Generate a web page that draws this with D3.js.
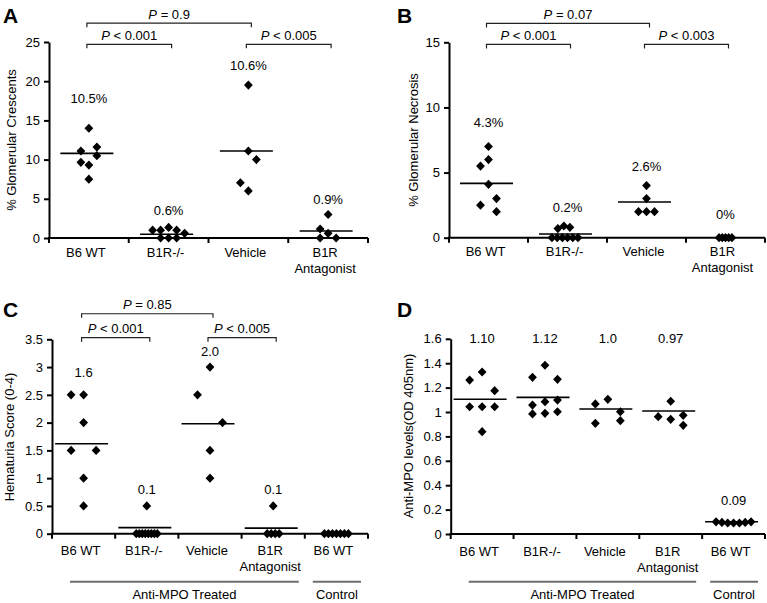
<!DOCTYPE html>
<html><head><meta charset="utf-8">
<script src="https://cdn.jsdelivr.net/npm/d3@7"></script>
<style>
body{margin:0;background:#fff}
svg{display:block;font-family:Arial,"Liberation Sans",Helvetica,sans-serif}
</style>
</head><body>
<svg id="chart" width="767" height="603"></svg>
<script>
// ---------------- DATA ----------------
const catsAB = ["B6 WT", "B1R-/-", "Vehicle", "B1R\nAntagonist"];
const catsCD = ["B6 WT", "B1R-/-", "Vehicle", "B1R\nAntagonist", "B6 WT"];

// Panel A: % glomerular crescents
const crescentB6WT = [14, 11.1, 11.6, 10.5, 9.65, 9.3, 7.5];
const crescentB1RKO = [1.0, 1.0, 1.35, 1.0, 0.6, 0, 0, 0];
const crescentVehicle = [19.5, 11.1, 10.0, 7.05, 6.0];
const crescentAntag = [3.0, 1.15, 0.6, 0, 0];
const crescentMean = [10.8, 0.47, 11.1, 0.9];
const crescentLabels = ["10.5%", "0.6%", "10.6%", "0.9%"];
const crescentLabelAt = [17.2, 2.93, 21.4, 4.34];
const crescentTicks = [0, 5, 10, 15, 20, 25];

// Panel B: % glomerular necrosis
const necrosisB6WT = [7, 6, 5.5, 4.1, 3, 2.5, 2];
const necrosisB1RKO = [0, 0, 0, 0, 0, 0, 0.7, 0.9, 0.8];
const necrosisVehicle = [4, 3, 2, 2, 2];
const necrosisAntag = [0, 0, 0, 0, 0];
const necrosisMean = [4.17, 0.28, 2.74, null];
const necrosisLabels = ["4.3%", "0.2%", "2.6%", "0%"];
const necrosisLabelAt = [8.52, 2.0, 5.14, 1.44];
const necrosisTicks = [0, 5, 10, 15];

// Panel C: hematuria score
const hematuriaB6WT = [2.5, 2.5, 2, 1.5, 1.5, 1, 0.5];
const hematuriaB1RKO = [0.5, 0, 0, 0, 0, 0, 0, 0, 0];
const hematuriaVehicle = [3, 2.5, 2, 1.5, 1];
const hematuriaAntag = [0.5, 0, 0, 0, 0];
const hematuriaControl = [0, 0, 0, 0, 0, 0, 0];
const hematuriaMean = [1.62, 0.11, 1.98, 0.1, null];
const hematuriaLabels = ["1.6", "0.1", "2.0", "0.1", ""];
const hematuriaLabelAt = [2.82, 0.71, 3.20, 0.71, null];
const hematuriaTicks = [0, 0.5, 1, 1.5, 2, 2.5, 3, 3.5];

// Panel D: anti-MPO levels
const mpoB6WT = [1.262, 1.328, 1.175, 1.043, 1.043, 1.043, 0.839];
const mpoB1RKO = [1.383, 1.284, 1.268, 1.084, 1.098, 1.057, 0.984, 0.989, 1.002];
const mpoVehicle = [1.066, 1.104, 1.002, 0.907, 0.929];
const mpoAntag = [1.088, 0.962, 0.940, 0.973, 0.891];
const mpoControl = [0.10, 0.095, 0.09, 0.09, 0.09, 0.095, 0.10];
const mpoMean = [1.104, 1.12, 1.025, 1.008, 0.1];
const mpoLabels = ["1.10", "1.12", "1.0", "0.97", "0.09"];
const mpoLabelAt = [1.565, 1.565, 1.565, 1.565, 0.238];
const mpoTicks = [0, 0.2, 0.4, 0.6, 0.8, 1, 1.2, 1.4, 1.6];

// horizontal dodge slots of each point (column index within its group)
const slotsA = [[0, -1, 1, 1, -1, 0, 0], [-2, -1, 0, 1, 2, -1, 0, 1], [0, 0, 1, -1, 0], [0, -1, 0, -1, 1]];
const slotsB = [[0, 0, -1, 0, 1, -1, 1], [-1.94, -1.29, -0.64, 0, 0.66, 1.31, -1.2, -0.45, 0.3], [0, 0, -1, 0, 1], [-0.8, -0.4, 0, 0.4, 0.8]];
const slotsC = [[-1, 0, 0, -1, 1, 0, 0], [0, -0.84, -0.6, -0.36, -0.12, 0.12, 0.36, 0.6, 0.84], [0, -1, 1, 0, 0], [0, -0.48, -0.16, 0.16, 0.48], [-0.96, -0.64, -0.32, 0, 0.32, 0.64, 0.96]];
const slotsD = [[-1, 0, 1, -1, 0, 1, 0], [0, -1, 1, 0, 1, -1, -1, 0, 1], [-1, 0, 1, -1, 1], [0, -1, 0, 1, 1], [-1.4, -0.93, -0.47, 0, 0.47, 0.93, 1.4]];

// significance brackets
const bracketsA = [{from: 0, to: 1, at: 24.7, op: " < 0.001"}, {from: 2, to: 3, at: 24.7, op: " < 0.005"}, {from: 0, to: 2, at: 27.4, op: " = 0.9"}];
const bracketsB = [{from: 0, to: 1, at: 14.84, op: " < 0.001"}, {from: 2, to: 3, at: 14.84, op: " < 0.003"}, {from: 0, to: 2, at: 16.45, op: " = 0.07"}];
const bracketsC = [{from: 0, to: 1, at: 3.53, op: " < 0.001"}, {from: 2, to: 3, at: 3.53, op: " < 0.005"}, {from: 0, to: 2, at: 3.96, op: " = 0.85"}];

const groupLabels = [{label: "Anti-MPO Treated", from: 0, to: 3}, {label: "Control", from: 4, to: 4}];

// ---------------- DRAWING ----------------
const svg = d3.select("#chart");
const diamond = "M0,-4.6L4.4,0L0,4.6L-4.4,0Z";

function panel(c) {
  const x = d3.scaleBand().domain(d3.range(c.cats.length)).range([c.x0, c.x1]);
  const y = d3.scaleLinear().domain([0, c.max]).range([c.y0, c.y1]);
  const bw = x.bandwidth();
  const cx = i => x(i) + bw / 2;
  const g = svg.append("g");

  // panel letter
  g.append("text").attr("x", c.lx).attr("y", c.ly).attr("font-size", 21).attr("font-weight", "bold").text(c.letter);

  // y axis
  const ya = g.append("g").attr("transform", `translate(${c.x0},0)`)
    .call(d3.axisLeft(y).tickValues(c.ticks).tickFormat(d3.format("~g")).tickSize(5).tickSizeOuter(0).tickPadding(4));
  ya.attr("font-size", 13).attr("font-family", null);
  ya.select(".domain").attr("stroke-width", 2).attr("stroke", "#000");
  ya.selectAll(".tick line").attr("stroke-width", 2).attr("stroke", "#000");
  ya.selectAll(".tick text").attr("fill", "#000");

  // x axis line and boundary ticks
  g.append("line").attr("x1", c.x0 - 1).attr("x2", c.x1).attr("y1", c.y0).attr("y2", c.y0)
    .attr("stroke", "#000").attr("stroke-width", 2);
  const bounds = d3.range(c.cats.length).map(i => x(i)).concat([c.x1]);
  g.selectAll(".xt").data(bounds).join("line")
    .attr("x1", d => d).attr("x2", d => d).attr("y1", c.y0).attr("y2", c.y0 + 5)
    .attr("stroke", "#000").attr("stroke-width", 2);

  // category labels
  c.cats.forEach((name, i) => {
    const t = g.append("text").attr("text-anchor", "middle").attr("font-size", 13);
    name.split("\n").forEach((part, k) => {
      t.append("tspan").attr("x", cx(i) - 3).attr("y", c.y0 + c.catBase + k * 16).text(part);
    });
  });

  // y title
  g.append("text").attr("transform", `translate(${c.tx},${c.ty}) rotate(-90)`)
    .attr("text-anchor", "middle").attr("font-size", 13).text(c.title);

  // mean lines
  c.means.forEach((m, i) => {
    if (m == null) return;
    g.append("line").attr("x1", cx(i) - 2 - 26.5).attr("x2", cx(i) - 2 + 26.5)
      .attr("y1", y(m)).attr("y2", y(m)).attr("stroke", "#000").attr("stroke-width", 1.6);
  });

  // points
  c.groups.forEach((vals, i) => {
    g.selectAll(null).data(vals.map((v, k) => ({v, s: c.slots[i][k]}))).join("path")
      .attr("d", diamond)
      .attr("transform", d => `translate(${cx(i) + d.s * c.step},${y(d.v)})`)
      .attr("fill", "#000");
  });

  // mean labels
  c.labels.forEach((lab, i) => {
    if (!lab) return;
    g.append("text").attr("x", cx(i)).attr("y", y(c.labelAt[i])).attr("text-anchor", "middle")
      .attr("font-size", 13).text(lab);
  });

  // brackets
  (c.brackets || []).forEach(b => {
    const yy = y(b.at), xs = cx(b.from) - 2, xe = cx(b.to) + 3;
    g.append("path").attr("d", `M${xs},${yy + 4}V${yy}H${xe}V${yy + 4}`)
      .attr("fill", "none").attr("stroke", "#222").attr("stroke-width", 1.2);
    const t = g.append("text").attr("x", (xs + xe) / 2).attr("y", yy - 4.5)
      .attr("text-anchor", "middle").attr("font-size", 13);
    t.append("tspan").attr("font-style", "italic").text("P");
    t.append("tspan").text(b.op);
  });

  // group labels under axis
  if (c.groupLabels) {
    const insetL = [18, 8], insetR = [6, 7];
    c.groupLabels.forEach((gr, k) => {
      const xs = x(gr.from) + insetL[k], xe = x(gr.to) + bw - insetR[k];
      g.append("line").attr("x1", xs).attr("x2", xe).attr("y1", 581.7).attr("y2", 581.7)
        .attr("stroke", "#6e6e6e").attr("stroke-width", 2);
      g.append("text").attr("x", (xs + xe) / 2).attr("y", 599).attr("text-anchor", "middle")
        .attr("font-size", 13).text(gr.label);
    });
  }
}

panel({letter: "A", lx: 3, ly: 23, x0: 49, x1: 368, y0: 238, y1: 42, max: 25, ticks: crescentTicks,
  cats: catsAB, catBase: 18.5, title: "% Glomerular Crescents", tx: 16, ty: 140,
  groups: [crescentB6WT, crescentB1RKO, crescentVehicle, crescentAntag], slots: slotsA, step: 8,
  means: crescentMean, labels: crescentLabels, labelAt: crescentLabelAt, brackets: bracketsA});

panel({letter: "B", lx: 397, ly: 23, x0: 449, x1: 765, y0: 237.7, y1: 42.3, max: 15, ticks: necrosisTicks,
  cats: catsAB, catBase: 18.5, title: "% Glomerular Necrosis", tx: 418, ty: 140,
  groups: [necrosisB6WT, necrosisB1RKO, necrosisVehicle, necrosisAntag], slots: slotsB, step: 8,
  means: necrosisMean, labels: necrosisLabels, labelAt: necrosisLabelAt, brackets: bracketsB});

panel({letter: "C", lx: 3, ly: 317, x0: 52, x1: 368, y0: 533.7, y1: 339.3, max: 3.5, ticks: hematuriaTicks,
  cats: catsCD, catBase: 21.5, title: "Hematuria Score (0-4)", tx: 13.5, ty: 437,
  groups: [hematuriaB6WT, hematuriaB1RKO, hematuriaVehicle, hematuriaAntag, hematuriaControl], slots: slotsC, step: 12.5,
  means: hematuriaMean, labels: hematuriaLabels, labelAt: hematuriaLabelAt, brackets: bracketsC, groupLabels});

panel({letter: "D", lx: 397, ly: 317, x0: 450.7, x1: 765, y0: 534, y1: 338.8, max: 1.6, ticks: mpoTicks,
  cats: catsCD, catBase: 21.5, title: "Anti-MPO levels(OD 405nm)", tx: 413, ty: 436,
  groups: [mpoB6WT, mpoB1RKO, mpoVehicle, mpoAntag, mpoControl], slots: slotsD, step: 12.5,
  means: mpoMean, labels: mpoLabels, labelAt: mpoLabelAt, groupLabels});
</script>
</body></html>
